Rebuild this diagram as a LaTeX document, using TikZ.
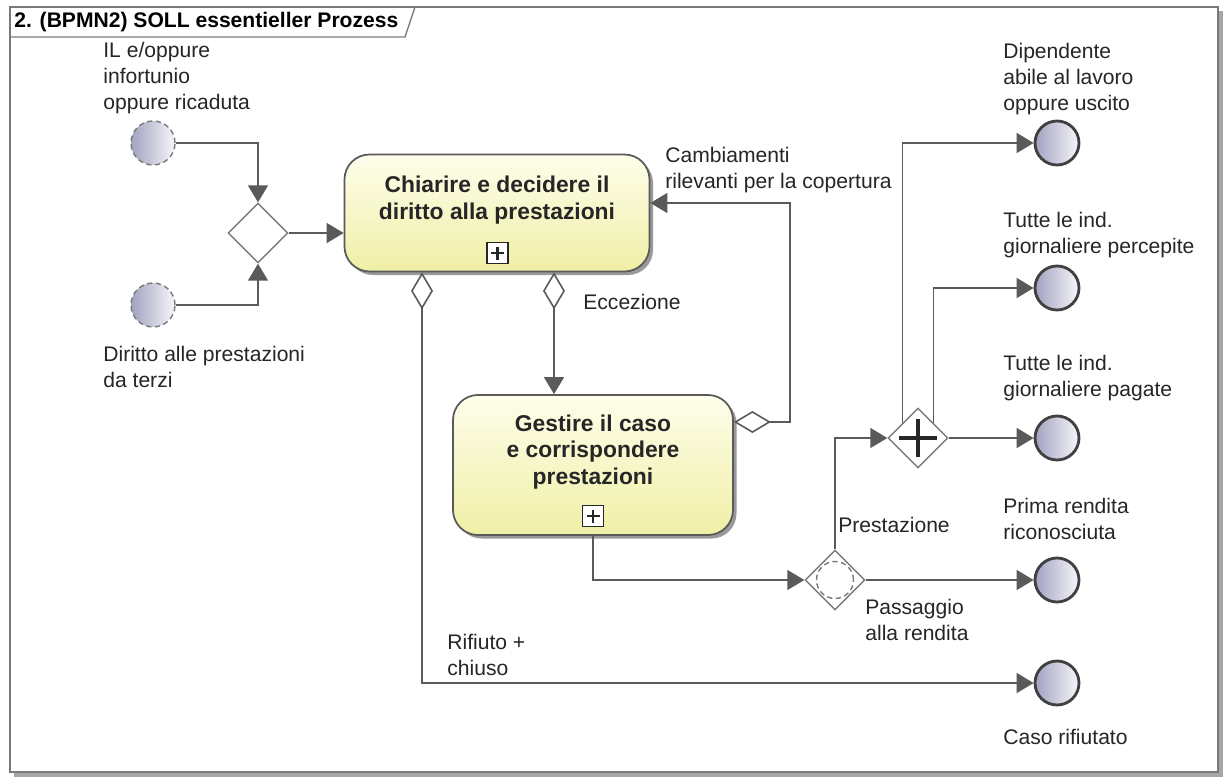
\documentclass[tikz,border=0pt]{standalone}
\usepackage{fontspec}
\setmainfont{Liberation Sans}
\usetikzlibrary{shapes.geometric, arrows.meta, shadows}

\definecolor{linegray}{HTML}{5A5A5A}
\definecolor{framegray}{HTML}{7A7A7A}
\definecolor{tasktop}{HTML}{FEFEEC}
\definecolor{taskbot}{HTML}{EFEFA6}
\definecolor{evleft}{HTML}{A2A2C0}
\definecolor{evright}{HTML}{F6F6FB}

\tikzset{
  lbl/.style={align=left, anchor=west, inner sep=0pt, text=black!85,
    font=\fontsize{12}{14.7}\selectfont},
  task/.style={draw=linegray, line width=1pt, rounded corners=0.5cm,
    top color=tasktop, bottom color=taskbot,
    drop shadow={shadow xshift=0.07cm, shadow yshift=-0.07cm, fill=black!40, opacity=1}},
  tasktext/.style={align=center, text=black!85,
    font=\fontsize{13}{15}\selectfont\bfseries},
  subproc/.style={draw=black!85, line width=1pt, fill=white, minimum size=0.42cm, inner sep=0,
    path picture={\draw[line width=1.6pt]
      ([yshift=-0.08cm]path picture bounding box.north) -- ([yshift=0.08cm]path picture bounding box.south)
      ([xshift=0.08cm]path picture bounding box.west) -- ([xshift=-0.08cm]path picture bounding box.east);}},
  startev/.style={circle, draw=framegray, densely dashed, line width=0.8pt, minimum size=0.88cm,
    inner sep=0, left color=evleft, right color=evright},
  endev/.style={circle, draw=black!75, line width=1.6pt, minimum size=0.88cm,
    inner sep=0, left color=evleft, right color=evright},
  gateway/.style={diamond, draw=framegray, line width=0.8pt, fill=white,
    minimum width=1.2cm, minimum height=1.2cm, inner sep=0},
  parallel/.style={path picture={\draw[line width=1.8pt, black!85]
      ([yshift=-0.22cm]path picture bounding box.north) -- ([yshift=0.22cm]path picture bounding box.south)
      ([xshift=0.22cm]path picture bounding box.west) -- ([xshift=-0.22cm]path picture bounding box.east);}},
  flow/.style={draw=linegray, line width=0.9pt, -{Triangle[length=0.34cm, width=0.4cm]}},
  cond/.style={draw=linegray, line width=0.9pt,
    arrows={Diamond[fill=white, length=0.74cm, width=0.44cm]-Triangle[length=0.34cm, width=0.4cm]}}
}

\begin{document}
\begin{tikzpicture}
    \path[use as bounding box, fill=white] (0,0) rectangle (24.5,-15.56);

    % frame and title
    \draw[black!35, line width=2pt] (0.28,-15.5) -- (24.42,-15.5) -- (24.42,-0.22);
    \draw[framegray, line width=0.8pt, fill=white] (0.2,-0.14) rectangle (24.36,-15.44);
    \draw[framegray, line width=0.8pt] (0.2,-0.74) -- (8.1,-0.74) -- (8.3,-0.14);
    \node[anchor=west, inner sep=0pt, font=\fontsize{12}{14}\selectfont\bfseries] (title) at (0.28,-0.44) {2. (BPMN2) SOLL essentieller Prozess};

    % events
    \node[startev] (start1) at (3.06,-2.86) {};
    \node[startev] (start2) at (3.06,-6.1) {};
    \node[endev] (end1) at (21.14,-2.86) {};
    \node[endev] (end2) at (21.14,-5.76) {};
    \node[endev] (end3) at (21.14,-8.76) {};
    \node[endev] (end4) at (21.14,-11.6) {};
    \node[endev] (end5) at (21.14,-13.66) {};

    % gateways
    \node[gateway] (gw1) at (5.16,-4.66) {};
    \node[gateway] (gw2) at (16.7,-11.6) {};
    \node[circle, draw=framegray, densely dashed, line width=0.8pt, minimum size=0.74cm, inner sep=0] (gw2ring) at (gw2) {};
    \node[gateway, parallel] (gw3) at (18.36,-8.76) {};

    % tasks
    \node[task, minimum width=6.1cm, minimum height=2.34cm] (task1) at (9.94,-4.26) {};
    \node[tasktext] (task1txt) at (9.94,-4.0) {Chiarire e decidere il\\diritto alla prestazioni};
    \node[subproc] (task1sub) at (9.95,-5.06) {};

    \node[task, minimum width=5.6cm, minimum height=2.8cm] (task2) at (11.86,-9.3) {};
    \node[tasktext] (task2txt) at (11.86,-9.04) {Gestire il caso\\e corrispondere\\prestazioni};
    \node[subproc] (task2sub) at (11.86,-10.32) {};

    % labels
    \node[lbl] (lblstart1) at (2.06,-1.56) {IL e/oppure\\infortunio\\oppure ricaduta};
    \node[lbl] (lblstart2) at (2.06,-7.34) {Diritto alle prestazioni\\da terzi};
    \node[lbl] (lblchange) at (13.3,-3.4) {Cambiamenti\\rilevanti per la copertura};
    \node[lbl] (lblexc) at (11.66,-6.04) {Eccezione};
    \node[lbl] (lblprest) at (16.76,-10.5) {Prestazione};
    \node[lbl] (lblpass) at (17.3,-12.4) {Passaggio\\alla rendita};
    \node[lbl] (lblrej) at (8.94,-13.1) {Rifiuto +\\chiuso};
    \node[lbl] (lblend1) at (20.06,-1.58) {Dipendente\\abile al lavoro\\oppure uscito};
    \node[lbl] (lblend2) at (20.06,-4.7) {Tutte le ind.\\giornaliere percepite};
    \node[lbl] (lblend3) at (20.06,-7.56) {Tutte le ind.\\giornaliere pagate};
    \node[lbl] (lblend4) at (20.06,-10.38) {Prima rendita\\riconosciuta};
    \node[lbl] (lblend5) at (20.06,-14.74) {Caso rifiutato};

    % start -> gw1 -> task1
    \draw[flow] (start1) -| (gw1);
    \draw[flow] (start2) -| (gw1);
    \draw[flow] (gw1) -- (gw1 -| task1.west);

    % task1 -> task2
    \draw[cond] (task1.south -| 11.08,0) -- (task2.north -| 11.08,0);

    % task1 -> rejected
    \draw[cond] (task1.south -| 8.44,0) |- (end5);

    % task2 -> task1
    \coordinate (loop) at (15.8,-4.06);
    \draw[cond] (task2.east |- 0,-8.44) -| (loop) -- (loop -| task1.east);

    % task2 -> gw2
    \draw[flow] (task2) |- (gw2);
    \draw[flow] (gw2) |- (gw3);
    \draw[flow] (gw2) -- (end4);

    % gw3 -> ends
    \draw[flow] (gw3.north west) |- (end1);
    \draw[flow] (gw3.north east) |- (end2);
    \draw[flow] (gw3) -- (end3);
\end{tikzpicture}
\end{document}
